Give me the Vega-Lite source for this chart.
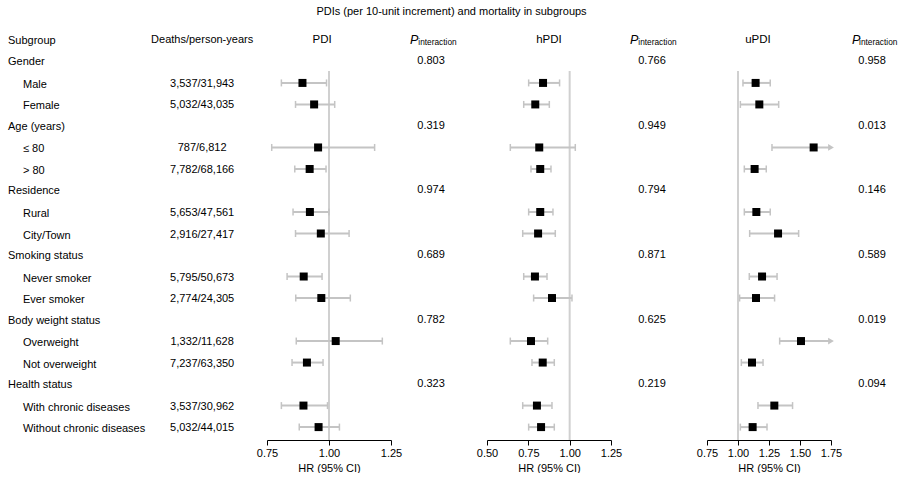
{
  "$schema": "https://vega.github.io/schema/vega-lite/v6.json",
  "padding": {"top": 6, "left": 0, "right": 0, "bottom": 0},
  "autosize": {"type": "pad"},
  "background": "white",
  "title": {"text": "PDIs (per 10-unit increment) and mortality in subgroups", "fontSize": 11, "fontWeight": "normal", "font": "Liberation Sans", "anchor": "middle", "offset": 10, "color": "black"},
  "spacing": 0,
  "bounds": "flush",
  "config": {
    "view": {"stroke": null},
    "font": "Liberation Sans",
    "text": {"fontSize": 11, "font": "Liberation Sans", "color": "black", "baseline": "middle"},
    "axis": {"grid": false, "domainColor": "#000", "tickColor": "#000", "labelColor": "#000", "titleColor": "#000", "labelFontSize": 11, "titleFontSize": 11, "titleFontWeight": "normal", "labelFont": "Liberation Sans", "titleFont": "Liberation Sans", "tickSize": 5, "labelPadding": 2, "titlePadding": 4, "labelFlush": false, "labelOverlap": false, "format": ".2f"}
  },
  "datasets": {
    "labels": [
      {"row": 0, "label": "Gender", "level": "group"},
      {"row": 1, "label": "Male", "level": "item", "deaths": "3,537/31,943"},
      {"row": 2, "label": "Female", "level": "item", "deaths": "5,032/43,035"},
      {"row": 3, "label": "Age (years)", "level": "group"},
      {"row": 4, "label": "≤ 80", "level": "item", "deaths": "787/6,812"},
      {"row": 5, "label": "> 80", "level": "item", "deaths": "7,782/68,166"},
      {"row": 6, "label": "Residence", "level": "group"},
      {"row": 7, "label": "Rural", "level": "item", "deaths": "5,653/47,561"},
      {"row": 8, "label": "City/Town", "level": "item", "deaths": "2,916/27,417"},
      {"row": 9, "label": "Smoking status", "level": "group"},
      {"row": 10, "label": "Never smoker", "level": "item", "deaths": "5,795/50,673"},
      {"row": 11, "label": "Ever smoker", "level": "item", "deaths": "2,774/24,305"},
      {"row": 12, "label": "Body weight status", "level": "group"},
      {"row": 13, "label": "Overweight", "level": "item", "deaths": "1,332/11,628"},
      {"row": 14, "label": "Not overweight", "level": "item", "deaths": "7,237/63,350"},
      {"row": 15, "label": "Health status", "level": "group"},
      {"row": 16, "label": "With chronic diseases", "level": "item", "deaths": "3,537/30,962"},
      {"row": 17, "label": "Without chronic diseases", "level": "item", "deaths": "5,032/44,015"}
    ],
    "forest": [
      {"index": "PDI", "row": 1, "hr": 0.893, "lo": 0.808, "hi": 0.990},
      {"index": "PDI", "row": 2, "hr": 0.940, "lo": 0.865, "hi": 1.023},
      {"index": "PDI", "row": 4, "hr": 0.956, "lo": 0.769, "hi": 1.184},
      {"index": "PDI", "row": 5, "hr": 0.922, "lo": 0.862, "hi": 0.988},
      {"index": "PDI", "row": 7, "hr": 0.923, "lo": 0.855, "hi": 1.000},
      {"index": "PDI", "row": 8, "hr": 0.967, "lo": 0.865, "hi": 1.081},
      {"index": "PDI", "row": 10, "hr": 0.898, "lo": 0.831, "hi": 0.972},
      {"index": "PDI", "row": 11, "hr": 0.969, "lo": 0.866, "hi": 1.086},
      {"index": "PDI", "row": 13, "hr": 1.027, "lo": 0.868, "hi": 1.215},
      {"index": "PDI", "row": 14, "hr": 0.911, "lo": 0.851, "hi": 0.976},
      {"index": "PDI", "row": 16, "hr": 0.897, "lo": 0.808, "hi": 0.994},
      {"index": "PDI", "row": 17, "hr": 0.958, "lo": 0.880, "hi": 1.042},
      {"index": "hPDI", "row": 1, "hr": 0.839, "lo": 0.752, "hi": 0.939},
      {"index": "hPDI", "row": 2, "hr": 0.792, "lo": 0.722, "hi": 0.877},
      {"index": "hPDI", "row": 4, "hr": 0.816, "lo": 0.641, "hi": 1.034},
      {"index": "hPDI", "row": 5, "hr": 0.822, "lo": 0.766, "hi": 0.887},
      {"index": "hPDI", "row": 7, "hr": 0.822, "lo": 0.752, "hi": 0.899},
      {"index": "hPDI", "row": 8, "hr": 0.809, "lo": 0.716, "hi": 0.913},
      {"index": "hPDI", "row": 10, "hr": 0.790, "lo": 0.722, "hi": 0.863},
      {"index": "hPDI", "row": 11, "hr": 0.893, "lo": 0.782, "hi": 1.014},
      {"index": "hPDI", "row": 13, "hr": 0.766, "lo": 0.641, "hi": 0.867},
      {"index": "hPDI", "row": 14, "hr": 0.837, "lo": 0.772, "hi": 0.907},
      {"index": "hPDI", "row": 16, "hr": 0.802, "lo": 0.716, "hi": 0.893},
      {"index": "hPDI", "row": 17, "hr": 0.827, "lo": 0.752, "hi": 0.907},
      {"index": "uPDI", "row": 1, "hr": 1.142, "lo": 1.040, "hi": 1.260},
      {"index": "uPDI", "row": 2, "hr": 1.172, "lo": 1.019, "hi": 1.328},
      {"index": "uPDI", "row": 4, "hr": 1.610, "lo": 1.274, "hi": 2.030},
      {"index": "uPDI", "row": 5, "hr": 1.134, "lo": 1.051, "hi": 1.228},
      {"index": "uPDI", "row": 7, "hr": 1.148, "lo": 1.051, "hi": 1.260},
      {"index": "uPDI", "row": 8, "hr": 1.323, "lo": 1.094, "hi": 1.489},
      {"index": "uPDI", "row": 10, "hr": 1.194, "lo": 1.091, "hi": 1.315},
      {"index": "uPDI", "row": 11, "hr": 1.145, "lo": 1.013, "hi": 1.295},
      {"index": "uPDI", "row": 13, "hr": 1.508, "lo": 1.336, "hi": 1.800},
      {"index": "uPDI", "row": 14, "hr": 1.113, "lo": 1.027, "hi": 1.202},
      {"index": "uPDI", "row": 16, "hr": 1.293, "lo": 1.161, "hi": 1.440},
      {"index": "uPDI", "row": 17, "hr": 1.118, "lo": 1.019, "hi": 1.234}
    ],
    "pvals": [
      {"index": "PDI", "row": 0, "p": 0.803},
      {"index": "PDI", "row": 3, "p": 0.319},
      {"index": "PDI", "row": 6, "p": 0.974},
      {"index": "PDI", "row": 9, "p": 0.689},
      {"index": "PDI", "row": 12, "p": 0.782},
      {"index": "PDI", "row": 15, "p": 0.323},
      {"index": "hPDI", "row": 0, "p": 0.766},
      {"index": "hPDI", "row": 3, "p": 0.949},
      {"index": "hPDI", "row": 6, "p": 0.794},
      {"index": "hPDI", "row": 9, "p": 0.871},
      {"index": "hPDI", "row": 12, "p": 0.625},
      {"index": "hPDI", "row": 15, "p": 0.219},
      {"index": "uPDI", "row": 0, "p": 0.958},
      {"index": "uPDI", "row": 3, "p": 0.013},
      {"index": "uPDI", "row": 6, "p": 0.146},
      {"index": "uPDI", "row": 9, "p": 0.589},
      {"index": "uPDI", "row": 12, "p": 0.019},
      {"index": "uPDI", "row": 15, "p": 0.094}
    ],
    "one": [{}]
  },
  "hconcat": [
    {
      "width": 267, "height": 413,
      "layer": [
        {
          "data": {"name": "labels"},
          "transform": [{"filter": "datum.level === 'group'"}],
          "mark": {"type": "text", "align": "left", "dy": 1},
          "encoding": {
            "x": {"datum": 0.03, "type": "quantitative", "scale": {"domain": [0, 1], "nice": false, "zero": false}, "axis": null},
            "y": {"field": "row", "type": "quantitative", "scale": {"domain": [-1.6, 17.6], "reverse": true, "nice": false, "zero": false}, "axis": null},
            "text": {"field": "label"}
          }
        },
        {
          "data": {"name": "labels"},
          "transform": [{"filter": "datum.level === 'item'"}],
          "mark": {"type": "text", "align": "left", "dy": 2},
          "encoding": {
            "x": {"datum": 0.086, "type": "quantitative"},
            "y": {"field": "row", "type": "quantitative"},
            "text": {"field": "label"}
          }
        },
        {
          "data": {"name": "labels"},
          "transform": [{"filter": "datum.level === 'item'"}],
          "mark": {"type": "text", "align": "center", "dy": 1},
          "encoding": {
            "x": {"datum": 0.757, "type": "quantitative"},
            "y": {"field": "row", "type": "quantitative"},
            "text": {"field": "deaths"}
          }
        },
        {
          "data": {"name": "one"},
          "mark": {"type": "text", "align": "left", "dy": 1},
          "encoding": {
            "x": {"datum": 0.03, "type": "quantitative"},
            "y": {"datum": -1, "type": "quantitative"},
            "text": {"value": "Subgroup"}
          }
        },
        {
          "data": {"name": "one"},
          "mark": {"type": "text", "align": "center", "dy": 0},
          "encoding": {
            "x": {"datum": 0.757, "type": "quantitative"},
            "y": {"datum": -1, "type": "quantitative"},
            "text": {"value": "Deaths/person-years"}
          }
        }
      ]
    },
    {
      "width": 124, "height": 413,
      "layer": [
        {
          "data": {"name": "one"},
          "mark": {"type": "rule", "color": "#d0d0d0", "strokeWidth": 2},
          "encoding": {
            "x": {"datum": 1, "type": "quantitative", "scale": {"domain": [0.75, 1.25], "nice": false, "zero": false}, "axis": {"values": [0.75, 1, 1.25], "tickCount": 10, "title": "HR (95% CI)"}},
            "y": {"datum": 0.45, "type": "quantitative", "scale": {"domain": [-1.6, 17.6], "reverse": true, "nice": false, "zero": false}, "axis": null},
            "y2": {"datum": 17.6}
          }
        },
        {
          "data": {"name": "forest"},
          "transform": [{"filter": "datum.index === 'PDI'"}],
          "layer": [
            {"mark": {"type": "rule", "color": "#c4c4c4", "strokeWidth": 2},
             "encoding": {"x": {"field": "lo", "type": "quantitative"}, "x2": {"field": "hi"}, "y": {"field": "row", "type": "quantitative"}}},
            {"mark": {"type": "tick", "orient": "vertical", "color": "#c4c4c4", "size": 7, "thickness": 1.5, "opacity": 1},
             "encoding": {"x": {"field": "lo", "type": "quantitative"}, "y": {"field": "row", "type": "quantitative"}}},
            {"mark": {"type": "tick", "orient": "vertical", "color": "#c4c4c4", "size": 7, "thickness": 1.5, "opacity": 1},
             "encoding": {"x": {"field": "hi", "type": "quantitative"}, "y": {"field": "row", "type": "quantitative"}}},
            {"mark": {"type": "point", "shape": "square", "filled": true, "color": "black", "size": 64, "opacity": 1},
             "encoding": {"x": {"field": "hr", "type": "quantitative"}, "y": {"field": "row", "type": "quantitative"}}}
          ]
        },
        {
          "data": {"name": "one"},
          "mark": {"type": "text", "align": "center", "fontSize": 11.5},
          "encoding": {
            "x": {"datum": 0.972, "type": "quantitative"},
            "y": {"datum": -1, "type": "quantitative"},
            "text": {"value": "PDI"}
          }
        }
      ]
    },
    {
      "width": 96, "height": 413,
      "layer": [
        {
          "data": {"name": "pvals"},
          "transform": [{"filter": "datum.index === 'PDI'"}],
          "mark": {"type": "text", "align": "center"},
          "encoding": {
            "x": {"datum": 0.417, "type": "quantitative", "scale": {"domain": [0, 1], "nice": false, "zero": false}, "axis": null},
            "y": {"field": "row", "type": "quantitative", "scale": {"domain": [-1.6, 17.6], "reverse": true, "nice": false, "zero": false}, "axis": null},
            "text": {"field": "p", "format": ".3f"}
          }
        },
        {
          "data": {"name": "one"},
          "mark": {"type": "text", "align": "left", "fontStyle": "italic", "fontSize": 12.5},
          "encoding": {"x": {"datum": 0.198, "type": "quantitative"}, "y": {"datum": -1, "type": "quantitative"}, "text": {"value": "P"}}
        },
        {
          "data": {"name": "one"},
          "mark": {"type": "text", "align": "left", "fontSize": 8.3, "dy": 3},
          "encoding": {"x": {"datum": 0.285, "type": "quantitative"}, "y": {"datum": -1, "type": "quantitative"}, "text": {"value": "interaction"}}
        }
      ]
    },
    {
      "width": 124, "height": 413,
      "layer": [
        {
          "data": {"name": "one"},
          "mark": {"type": "rule", "color": "#d0d0d0", "strokeWidth": 2},
          "encoding": {
            "x": {"datum": 1, "type": "quantitative", "scale": {"domain": [0.5, 1.25], "nice": false, "zero": false}, "axis": {"values": [0.5, 0.75, 1, 1.25], "tickCount": 10, "title": "HR (95% CI)"}},
            "y": {"datum": 0.45, "type": "quantitative", "scale": {"domain": [-1.6, 17.6], "reverse": true, "nice": false, "zero": false}, "axis": null},
            "y2": {"datum": 17.6}
          }
        },
        {
          "data": {"name": "forest"},
          "transform": [{"filter": "datum.index === 'hPDI'"}],
          "layer": [
            {"mark": {"type": "rule", "color": "#c4c4c4", "strokeWidth": 2},
             "encoding": {"x": {"field": "lo", "type": "quantitative"}, "x2": {"field": "hi"}, "y": {"field": "row", "type": "quantitative"}}},
            {"mark": {"type": "tick", "orient": "vertical", "color": "#c4c4c4", "size": 7, "thickness": 1.5, "opacity": 1},
             "encoding": {"x": {"field": "lo", "type": "quantitative"}, "y": {"field": "row", "type": "quantitative"}}},
            {"mark": {"type": "tick", "orient": "vertical", "color": "#c4c4c4", "size": 7, "thickness": 1.5, "opacity": 1},
             "encoding": {"x": {"field": "hi", "type": "quantitative"}, "y": {"field": "row", "type": "quantitative"}}},
            {"mark": {"type": "point", "shape": "square", "filled": true, "color": "black", "size": 64, "opacity": 1},
             "encoding": {"x": {"field": "hr", "type": "quantitative"}, "y": {"field": "row", "type": "quantitative"}}}
          ]
        },
        {
          "data": {"name": "one"},
          "mark": {"type": "text", "align": "center", "fontSize": 11.5},
          "encoding": {
            "x": {"datum": 0.875, "type": "quantitative"},
            "y": {"datum": -1, "type": "quantitative"},
            "text": {"value": "hPDI"}
          }
        }
      ]
    },
    {
      "width": 96, "height": 413,
      "layer": [
        {
          "data": {"name": "pvals"},
          "transform": [{"filter": "datum.index === 'hPDI'"}],
          "mark": {"type": "text", "align": "center"},
          "encoding": {
            "x": {"datum": 0.427, "type": "quantitative", "scale": {"domain": [0, 1], "nice": false, "zero": false}, "axis": null},
            "y": {"field": "row", "type": "quantitative", "scale": {"domain": [-1.6, 17.6], "reverse": true, "nice": false, "zero": false}, "axis": null},
            "text": {"field": "p", "format": ".3f"}
          }
        },
        {
          "data": {"name": "one"},
          "mark": {"type": "text", "align": "left", "fontStyle": "italic", "fontSize": 12.5},
          "encoding": {"x": {"datum": 0.198, "type": "quantitative"}, "y": {"datum": -1, "type": "quantitative"}, "text": {"value": "P"}}
        },
        {
          "data": {"name": "one"},
          "mark": {"type": "text", "align": "left", "fontSize": 8.3, "dy": 3},
          "encoding": {"x": {"datum": 0.285, "type": "quantitative"}, "y": {"datum": -1, "type": "quantitative"}, "text": {"value": "interaction"}}
        }
      ]
    },
    {
      "width": 124, "height": 413,
      "layer": [
        {
          "data": {"name": "one"},
          "mark": {"type": "rule", "color": "#d0d0d0", "strokeWidth": 2},
          "encoding": {
            "x": {"datum": 1, "type": "quantitative", "scale": {"domain": [0.75, 1.75], "nice": false, "zero": false, "clamp": true}, "axis": {"values": [0.75, 1, 1.25, 1.5, 1.75], "tickCount": 10, "title": "HR (95% CI)"}},
            "y": {"datum": 0.45, "type": "quantitative", "scale": {"domain": [-1.6, 17.6], "reverse": true, "nice": false, "zero": false}, "axis": null},
            "y2": {"datum": 17.6}
          }
        },
        {
          "data": {"name": "forest"},
          "transform": [{"filter": "datum.index === 'uPDI'"}],
          "layer": [
            {"mark": {"type": "rule", "color": "#c4c4c4", "strokeWidth": 2},
             "encoding": {"x": {"field": "lo", "type": "quantitative"}, "x2": {"field": "hi"}, "y": {"field": "row", "type": "quantitative"}}},
            {"mark": {"type": "tick", "orient": "vertical", "color": "#c4c4c4", "size": 7, "thickness": 1.5, "opacity": 1},
             "encoding": {"x": {"field": "lo", "type": "quantitative"}, "y": {"field": "row", "type": "quantitative"}}},
            {"transform": [{"filter": "datum.hi <= 1.75"}],
             "mark": {"type": "tick", "orient": "vertical", "color": "#c4c4c4", "size": 7, "thickness": 1.5, "opacity": 1},
             "encoding": {"x": {"field": "hi", "type": "quantitative"}, "y": {"field": "row", "type": "quantitative"}}},
            {"transform": [{"filter": "datum.hi > 1.75"}],
             "mark": {"type": "point", "shape": "triangle-right", "filled": true, "color": "#c4c4c4", "size": 45, "opacity": 1},
             "encoding": {"x": {"field": "hi", "type": "quantitative"}, "y": {"field": "row", "type": "quantitative"}}},
            {"mark": {"type": "point", "shape": "square", "filled": true, "color": "black", "size": 64, "opacity": 1},
             "encoding": {"x": {"field": "hr", "type": "quantitative"}, "y": {"field": "row", "type": "quantitative"}}}
          ]
        },
        {
          "data": {"name": "one"},
          "mark": {"type": "text", "align": "center", "fontSize": 11.5},
          "encoding": {
            "x": {"datum": 1.161, "type": "quantitative"},
            "y": {"datum": -1, "type": "quantitative"},
            "text": {"value": "uPDI"}
          }
        }
      ]
    },
    {
      "width": 72, "height": 413,
      "layer": [
        {
          "data": {"name": "pvals"},
          "transform": [{"filter": "datum.index === 'uPDI'"}],
          "mark": {"type": "text", "align": "center"},
          "encoding": {
            "x": {"datum": 0.57, "type": "quantitative", "scale": {"domain": [0, 1], "nice": false, "zero": false}, "axis": null},
            "y": {"field": "row", "type": "quantitative", "scale": {"domain": [-1.6, 17.6], "reverse": true, "nice": false, "zero": false}, "axis": null},
            "text": {"field": "p", "format": ".3f"}
          }
        },
        {
          "data": {"name": "one"},
          "mark": {"type": "text", "align": "left", "fontStyle": "italic", "fontSize": 12.5},
          "encoding": {"x": {"datum": 0.29, "type": "quantitative"}, "y": {"datum": -1, "type": "quantitative"}, "text": {"value": "P"}}
        },
        {
          "data": {"name": "one"},
          "mark": {"type": "text", "align": "left", "fontSize": 8.3, "dy": 3},
          "encoding": {"x": {"datum": 0.39, "type": "quantitative"}, "y": {"datum": -1, "type": "quantitative"}, "text": {"value": "interaction"}}
        }
      ]
    }
  ]
}
